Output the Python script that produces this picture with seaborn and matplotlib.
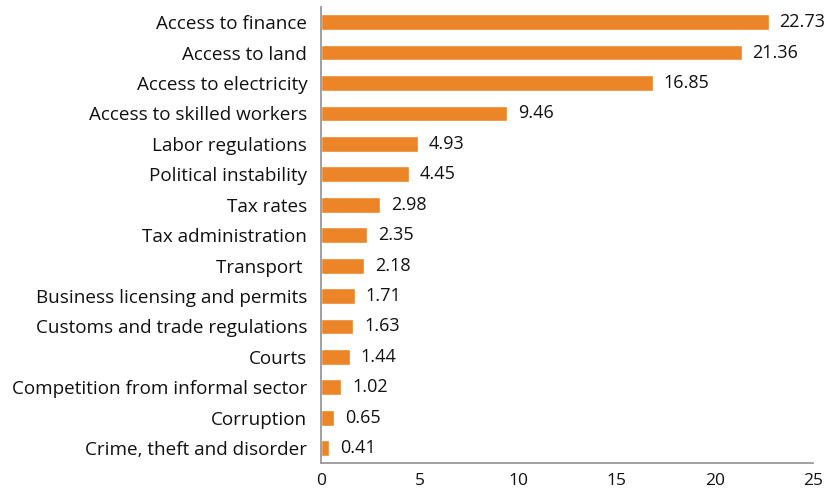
import matplotlib
matplotlib.use("Agg")
import numpy as np
import pandas as pd
import seaborn as sns
import matplotlib.pyplot as plt

# obstacles and share of firms (%)
categorie = ['Access to finance', 'Access to land', 'Access to electricity',
             'Access to skilled workers', 'Labor regulations', 'Political instability',
             'Tax rates', 'Tax administration', 'Transport ',
             'Business licensing and permits', 'Customs and trade regulations',
             'Courts', 'Competition from informal sector', 'Corruption',
             'Crime, theft and disorder']
valori = [22.73, 21.36, 16.85, 9.46, 4.93, 4.45, 2.98, 2.35, 2.18,
          1.71, 1.63, 1.44, 1.02, 0.65, 0.41]
xticks = [0, 5, 10, 15, 20, 25]

df = pd.DataFrame({'cat': categorie, 'val': valori})

sns.set_theme(style="white")
plt.rcParams['font.family'] = ['Open Sans', 'DejaVu Sans']

fig = plt.figure(figsize=(8.3, 4.93), dpi=100)
ax = fig.add_axes([0.387, 0.06, 0.593, 0.926])

sns.barplot(data=df, x='val', y='cat', orient='h', color='#EC8428',
            saturation=1, width=0.52, ax=ax)

for i, v in enumerate(valori):
    ax.text(v + 0.55, i, f"{v:.2f}", va='center', ha='left', fontsize=13, color='#111111')

ax.set_xlim(0, 25)
ax.set_ylim(len(categorie) - 0.5, -0.5)
ax.set_xticks(xticks)
ax.set_xticklabels([str(t) for t in xticks], fontsize=12.5, color='#111111')
ax.set_yticks(range(len(categorie)))
ax.set_yticklabels(categorie, fontsize=13.6, color='#111111')
ax.set_yticks(np.arange(-0.5, len(categorie), 1), minor=True)
ax.tick_params(axis='y', which='major', length=0, pad=10)
ax.tick_params(axis='y', which='minor', length=5, width=1.3, color='#999999', direction='out')
ax.tick_params(axis='x', length=5, width=1.3, color='#999999', direction='out', pad=2)
ax.set_xlabel('')
ax.set_ylabel('')

for s in ['top', 'right']:
    ax.spines[s].set_visible(False)
for s in ['left', 'bottom']:
    ax.spines[s].set_color('#999999')
    ax.spines[s].set_linewidth(1.3)

fig.savefig('out.png', dpi=100)
